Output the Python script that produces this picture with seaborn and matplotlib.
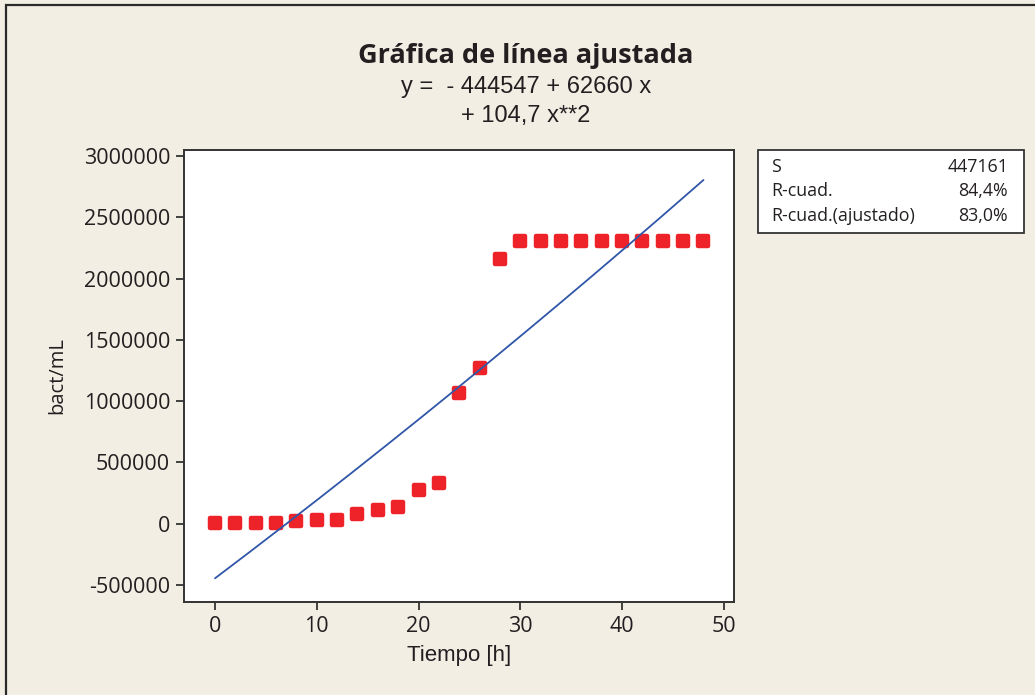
import numpy as np
import pandas as pd
import seaborn as sns
import matplotlib
matplotlib.use("Agg")
import matplotlib.pyplot as plt
from matplotlib.patches import Rectangle
from matplotlib.ticker import FuncFormatter

# Measured growth: hours vs bacteria per mL
tiempo = [0, 2, 4, 6, 8, 10, 12, 14, 16, 18, 20, 22, 24,
          26, 28, 30, 32, 34, 36, 38, 40, 42, 44, 46, 48]
bact = [5000, 5000, 5000, 5000, 19000, 33000, 33000, 79000, 109000,
        139000, 272000, 329000, 1065000, 1274000, 2160000,
        2307000, 2307000, 2307000, 2307000, 2307000,
        2307000, 2307000, 2307000, 2307000, 2307000]

# Quadratic fit coefficients and summary statistics
coef_b0 = -444547
coef_b1 = 62660
coef_b2 = 104.7
stats_labels = ["S", "R-cuad.", "R-cuad.(ajustado)"]
stats_values = ["447161", "84,4%", "83,0%"]

x_ticks = [0, 10, 20, 30, 40, 50]
y_ticks = [-500000, 0, 500000, 1000000, 1500000, 2000000, 2500000, 3000000]

BG = "#F2EEE4"
RED = "#EE2229"
BLUE = "#3056A8"
INK = "#231F20"

sns.set_style("ticks")
plt.rcParams["font.family"] = ["Open Sans", "DejaVu Sans"]
plt.rcParams["axes.unicode_minus"] = False

W, H = 1035, 695
fig = plt.figure(figsize=(W / 100, H / 100), dpi=100, facecolor=BG)


def fx(px):
    return px / W


def fy(py):
    return 1 - py / H


ax = fig.add_axes([fx(184), fy(602), fx(734) - fx(184), fy(150) - fy(602)])
ax.set_facecolor("white")

df = pd.DataFrame({"Tiempo": tiempo, "bact": bact})
xs = np.linspace(min(tiempo), max(tiempo), 200)
fit = pd.DataFrame({"Tiempo": xs, "bact": coef_b0 + coef_b1 * xs + coef_b2 * xs ** 2})

sns.scatterplot(data=df, x="Tiempo", y="bact", ax=ax, marker="s", s=50,
                color=RED, edgecolor=RED, linewidth=3.2, zorder=3)
for coll in ax.collections:
    coll.set_joinstyle("round")
sns.lineplot(data=fit, x="Tiempo", y="bact", ax=ax, color=BLUE, linewidth=1.3, zorder=4)

ax.set_xlim(-3.05, 51.0)
ax.set_ylim(-638000, 3049000)
ax.set_xticks(x_ticks)
ax.set_yticks(y_ticks)
ax.yaxis.set_major_formatter(FuncFormatter(lambda v, p: f"{int(round(v))}"))
ax.tick_params(axis="both", direction="out", length=6, width=1.3, color="#333333",
               labelsize=15.5, labelcolor=INK, pad=4)
for sp in ax.spines.values():
    sp.set_visible(True)
    sp.set_color("#333333")
    sp.set_linewidth(1.4)

ax.set_xlabel("Tiempo [h]", fontsize=16, color=INK, family=["Liberation Sans"], labelpad=6)
ax.set_ylabel("bact/mL", fontsize=14.5, color=INK, labelpad=12)

# Title and fitted equation
fig.text(fx(526), fy(56), "Gráfica de línea ajustada", ha="center", va="center",
         fontsize=19.5, fontweight="bold", color=INK)
fig.text(fx(526), fy(87), "y =  - 444547 + 62660 x", ha="center", va="center",
         fontsize=17, color=INK, family=["Liberation Sans"])
fig.text(fx(526), fy(116), "+ 104,7 x**2", ha="center", va="center",
         fontsize=17, color=INK, family=["Liberation Sans"])

# Summary statistics box
fig.add_artist(Rectangle((fx(758), fy(233)), fx(1024) - fx(758), fy(150) - fy(233),
                         transform=fig.transFigure, facecolor="white",
                         edgecolor="#333333", linewidth=1.3))
for i, (lab, val) in enumerate(zip(stats_labels, stats_values)):
    yy = fy(167 + 24.5 * i)
    fig.text(fx(771), yy, lab, ha="left", va="center", fontsize=12.8, color=INK)
    fig.text(fx(1008), yy, val, ha="right", va="center", fontsize=12.8, color=INK)

# Outer frame of the graph window
fig.add_artist(Rectangle((fx(6), fy(H + 10)), fx(W + 10), fy(5) - fy(H + 10),
                         transform=fig.transFigure, facecolor="none",
                         edgecolor="#2a2a2a", linewidth=1.6))

fig.savefig("out.png", dpi=100, facecolor=BG)
